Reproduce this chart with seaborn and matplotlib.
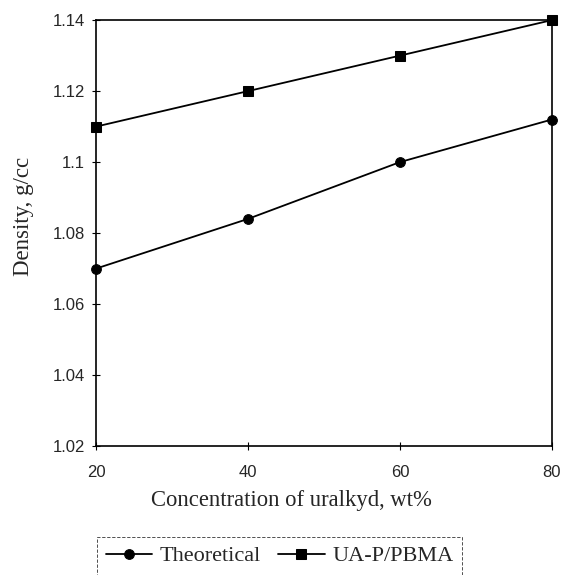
import pandas as pd
import matplotlib.pyplot as plt
import seaborn as sns

# Datos
concentracion = [20, 40, 60, 80]
teorica = [1.070, 1.084, 1.100, 1.112]
ua_pbma = [1.110, 1.120, 1.130, 1.140]
series = ["Theoretical", "UA-P/PBMA"]
y_ticks = [1.02, 1.04, 1.06, 1.08, 1.10, 1.12, 1.14]
y_labels = ["1.02", "1.04", "1.06", "1.08", "1.1", "1.12", "1.14"]
x_ticks = [20, 40, 60, 80]

df = pd.DataFrame({
    "conc": concentracion * 2,
    "densidad": teorica + ua_pbma,
    "serie": [series[0]] * 4 + [series[1]] * 4,
})

sns.set_style("white")
fig = plt.figure(figsize=(5.62, 5.75), dpi=100)
ax = fig.add_axes([0.171, 0.2243, 0.811, 0.7407])

sns.lineplot(data=df, x="conc", y="densidad", hue="serie", style="serie",
             markers={"Theoretical": "o", "UA-P/PBMA": "s"}, dashes=False,
             palette=["black", "black"], linewidth=1.3, markersize=7,
             markeredgecolor="black", ax=ax, clip_on=False, legend=True)

ax.set_xlim(20, 80)
ax.set_ylim(1.02, 1.14)
ax.set_xticks(x_ticks)
ax.set_xticklabels([str(v) for v in x_ticks], fontsize=12, family="Liberation Sans")
ax.set_yticks(y_ticks)
ax.set_yticklabels(y_labels, fontsize=12, family="Liberation Sans")
ax.tick_params(axis="both", direction="inout", length=6, width=0.8, color="black",
               bottom=True, left=True)
ax.tick_params(axis="y", pad=5)
ax.tick_params(axis="x", pad=11)

for s in ax.spines.values():
    s.set_color("black")
    s.set_linewidth(1.2)

ax.set_xlabel("Concentration of uralkyd, wt%", fontsize=16.3, family="Liberation Serif")
ax.set_ylabel("Density, g/cc", fontsize=16.5, family="Liberation Serif")
ax.xaxis.set_label_coords(0.429, -0.104)
ax.yaxis.set_label_coords(-0.136, 0.538)

handles, labels = ax.get_legend_handles_labels()
leg = ax.legend(handles, labels, loc="upper left", bbox_to_anchor=(0.172, 0.066),
                bbox_transform=fig.transFigure, ncol=2, frameon=True, fancybox=False,
                handlelength=2.1, handletextpad=0.35, columnspacing=0.75,
                borderpad=0.4, borderaxespad=0,
                prop={"family": "Liberation Serif", "size": 16})
leg.get_frame().set_edgecolor("black")
leg.get_frame().set_linewidth(0.6)
leg.get_frame().set_linestyle((0, (4, 2)))

plt.savefig("out.png", dpi=100)
